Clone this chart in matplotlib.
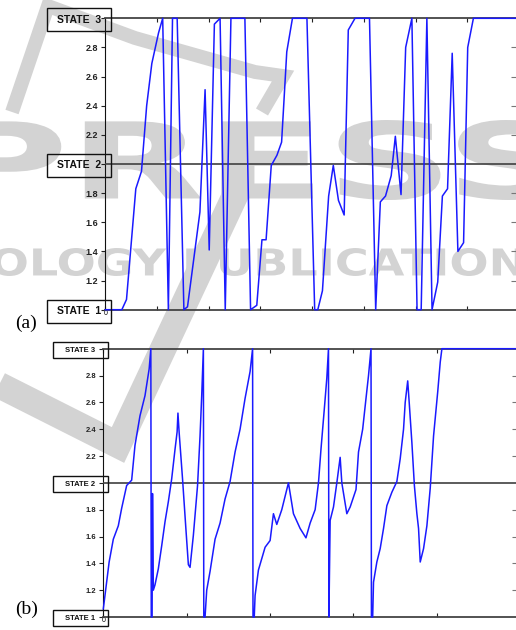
import matplotlib
matplotlib.use("Agg")
import matplotlib.pyplot as plt
from matplotlib.patches import Rectangle, PathPatch
from matplotlib.textpath import TextPath
from matplotlib.font_manager import FontProperties
from matplotlib.transforms import Affine2D, blended_transform_factory
from matplotlib.lines import Line2D

plt.rcParams['font.family'] = ['Liberation Sans', 'DejaVu Sans']

# (a) coarse state trajectory
a_t = [0, 3.2, 4.1, 5.9, 7.0, 8.0, 9.0, 10.3, 11.1, 12.2, 13.0, 13.9, 15.2, 15.9,
       18.3, 19.3, 20.1, 21.1, 22.2, 23.2, 24.3, 27.0, 28.1, 29.3, 30.3, 31.1,
       32.1, 33.2, 34.1, 35.1, 36.2, 39.0, 40.5, 41.1, 42.0, 43.2, 44.1, 45.1,
       46.2, 47.0, 48.3, 51.1, 52.3, 53.2, 54.2, 55.3, 56.1, 57.2, 58.1, 59.3,
       60.3, 61.1, 62.2, 63.2, 64.3, 65.2, 66.2, 67.1, 68.2, 69.3, 70.1, 71.2, 80]
a_v = [1.0, 1.0, 1.07, 1.83, 1.95, 2.40, 2.69, 2.90, 3.0, 1.0, 3.0, 3.0, 1.0, 1.02,
       1.67, 2.51, 1.41, 2.96, 3.0, 1.0, 3.0, 3.0, 1.0, 1.03, 1.48, 1.48,
       1.99, 2.06, 2.15, 2.77, 3.0, 3.0, 1.0, 1.0, 1.13, 1.78, 1.99, 1.75,
       1.65, 2.92, 3.0, 3.0, 1.0, 1.74, 1.78, 1.92, 2.19, 1.79, 2.80, 3.0,
       1.0, 1.0, 3.0, 1.0, 1.19, 1.78, 1.83, 2.76, 1.40, 1.46, 2.80, 3.0, 3.0]

# (b) fine state trajectory
b_t = [0, 3, 7, 12, 18, 22, 28, 34, 38, 44, 50, 55, 57, 57.5, 58.5, 59, 60, 62,
       66, 70, 74, 78, 82, 86, 88.5, 89.5, 91, 95, 99, 102, 104, 108, 113, 116,
       118, 120, 120.5, 122, 124, 128, 134, 140, 146, 152, 158, 164, 170, 176,
       179, 179.5, 181, 182, 186, 194, 200, 204, 208, 214, 222, 228, 236, 243,
       248, 254, 258, 261, 265, 268, 270, 270.5, 272, 276, 280, 284, 286, 292,
       296, 303, 306, 311, 315, 318, 321, 321.5, 323, 324, 328, 332, 336, 340,
       346, 352, 356, 360, 362, 365, 367, 370, 373, 376, 378, 380, 384, 388,
       392, 396, 401, 404, 406, 500]
b_v = [1.06, 1.21, 1.41, 1.58, 1.68, 1.81, 1.98, 2.02, 2.28, 2.50, 2.65, 2.85,
       3.0, 1.0, 1.0, 1.92, 1.2, 1.24, 1.36, 1.53, 1.71, 1.86, 2.03, 2.25, 2.38,
       2.52, 2.37, 2.03, 1.66, 1.39, 1.37, 1.61, 1.98, 2.35, 2.65, 3.0, 1.0,
       1.0, 1.2, 1.34, 1.58, 1.70, 1.88, 2.01, 2.23, 2.40, 2.63, 2.83, 3.0, 1.0,
       1.0, 1.16, 1.35, 1.52, 1.57, 1.77, 1.69, 1.80, 2.0, 1.77, 1.66, 1.59,
       1.70, 1.80, 2.0, 2.25, 2.55, 2.78, 3.0, 1.0, 1.72, 1.82, 2.0, 2.19, 2.0,
       1.77, 1.82, 1.95, 2.23, 2.40, 2.63, 2.80, 3.0, 1.0, 1.0, 1.26, 1.41,
       1.51, 1.66, 1.83, 1.93, 2.01, 2.18, 2.40, 2.60, 2.76, 2.58, 2.30, 1.98,
       1.77, 1.66, 1.41, 1.51, 1.68, 1.96, 2.35, 2.68, 2.90, 3.0, 3.0]

y_ticks = [1.2, 1.4, 1.6, 1.8, 2.2, 2.4, 2.6, 2.8]
states = [1, 2, 3]

W, H = 516, 630
WM = '#d3d3d3'
BLUE = '#1a1aff'

fig = plt.figure(figsize=(W / 100, H / 100), dpi=100)
px = Affine2D().scale(1 / W, -1 / H).translate(0, 1) + fig.transFigure


def wm_text(s, left, top, w, h):
    tp = TextPath((0, 0), s, size=50,
                  prop=FontProperties(family='DejaVu Sans', weight='bold'))
    bb = tp.get_extents()
    tr = (Affine2D().translate(-bb.x0, -bb.y0)
          .scale(w / bb.width, -h / bb.height).translate(left, top + h) + px)
    fig.add_artist(PathPatch(tp, transform=tr, fc=WM, ec='none', zorder=-2))


def wm_stroke(xs, ys, lw):
    fig.add_artist(Line2D(xs, ys, transform=px, color=WM, lw=lw,
                          solid_joinstyle='miter', solid_capstyle='butt', zorder=-2))


# faint publisher watermark behind the plots
wm_text('PRESS', -45, 120, 605, 80)
wm_text('OLOGY PUBLICATIONS', -8, 248, 565, 28)
wm_stroke([12, 48, 135, 255, 283, 262], [112, 6, 38, 72, 76, 112], 10)
wm_stroke([-5, 118, 240], [383, 445, 185], 19)


def setup(ax, t, v, xmax, step, box, fs_box, fs_tick, label_txt):
    ax.set_facecolor('none')
    ax.plot(t, v, color=BLUE, lw=1.1, clip_on=False, zorder=4)
    ax.set_xlim(0, xmax)
    ax.set_ylim(1, 3)
    ax.axhline(2, color='#404040', lw=1.2, zorder=3)

    xt = list(range(0, xmax + 1, step))
    ax.set_xticks(xt)
    ax.set_xticklabels(['0'] + [''] * (len(xt) - 1))
    ax.tick_params(axis='x', direction='in', top=True, bottom=True, length=3,
                   width=0.8, labelsize=5, pad=0, color='#222')
    ax.set_yticks(y_ticks + states)
    ax.set_yticklabels(y_ticks + [''] * 3)
    ax.tick_params(axis='y', direction='out', length=3, width=0.8,
                   labelsize=fs_tick, pad=2, color='#222')
    for lab in ax.get_yticklabels():
        lab.set_fontweight('bold')
        lab.set_color('#222')
    # right axis only has short inward ticks
    sec = ax.secondary_yaxis('right')
    sec.set_yticks(y_ticks)
    sec.set_yticklabels([])
    sec.tick_params(direction='in', length=6, width=0.8, color='#777')
    sec.spines['right'].set_color('#404040')

    for s in ['top', 'bottom']:
        ax.spines[s].set_color('#444')
        ax.spines[s].set_linewidth(1.3)
    ax.spines['left'].set_color('#111')
    ax.spines['right'].set_visible(False)

    x0, w, h = box
    tr = blended_transform_factory(ax.transAxes, ax.transData)
    for lv in states:
        c = lv - 0.01
        ax.add_patch(Rectangle((x0, c - h / 2), w, h, transform=tr, fill=False,
                               ec='#111', lw=1.0, clip_on=False, zorder=6))
        ax.text(x0 + w / 2, c, label_txt.format(lv), transform=tr, ha='center',
                va='center', fontsize=fs_box, color='#111', fontweight='bold',
                zorder=6)


ax_a = fig.add_axes([105.3 / W, 1 - 309.7 / H, 413.6 / W, 291.4 / H])
setup(ax_a, a_t, a_v, 80, 10, (-0.141, 0.1547, 0.158), 7.5, 6.5, 'STATE  {}')

ax_b = fig.add_axes([103.3 / W, 1 - 617 / H, 417 / W, 268.3 / H])
setup(ax_b, b_t, b_v, 500, 100, (-0.1206, 0.132, 0.119), 5.5, 5.5, 'STATE {}')

fig.text(26 / W, 1 - 323 / H, '(a)', family='Liberation Serif', fontsize=14,
         ha='center', va='center')
fig.text(27 / W, 1 - 609 / H, '(b)', family='Liberation Serif', fontsize=14,
         ha='center', va='center')

fig.savefig('out.png', dpi=100)
